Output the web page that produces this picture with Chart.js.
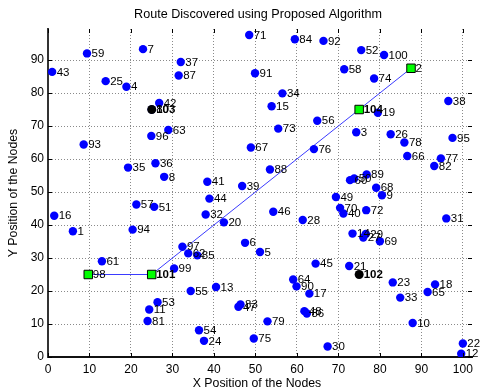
<!DOCTYPE html>
<html>
<head>
<meta charset="utf-8">
<script src="https://cdn.jsdelivr.net/npm/chart.js@4.4.1/dist/chart.umd.min.js"></script>
<style>
  html, body { margin: 0; padding: 0; background: #fff; }
  #wrap { width: 480px; height: 390px; }
</style>
</head>
<body>
<div id="wrap"><canvas id="route-chart" width="480" height="390"></canvas></div>
<script>
// ordinary nodes
const nodeIds = [1, 3, 4, 5, 6, 7, 8, 9, 10, 11, 12, 13, 14, 15, 16, 17, 18, 19, 20,
  21, 22, 23, 24, 25, 26, 27, 28, 29, 30, 31, 32, 33, 34, 35, 36, 37, 38, 39, 40,
  41, 42, 43, 44, 45, 46, 47, 48, 49, 50, 51, 52, 53, 54, 55, 56, 57, 58, 59, 60,
  61, 62, 63, 64, 65, 66, 67, 68, 69, 70, 71, 72, 73, 74, 75, 76, 77, 78, 79, 80,
  81, 82, 83, 84, 85, 86, 87, 88, 89, 90, 91, 92, 93, 94, 95, 96, 97, 99, 100];
const nodeX = [6.0, 74.3, 18.9, 51.1, 47.5, 22.9, 28.0, 80.5, 87.9, 24.4, 99.6, 40.5, 73.4, 53.9, 1.5, 63.0, 93.3, 79.5, 42.4,
  72.6, 100.0, 83.1, 37.6, 13.9, 82.6, 76.0, 61.4, 76.6, 67.4, 96.0, 38.0, 84.9, 56.5, 19.3, 25.9, 32.0, 96.5, 46.8, 71.2,
  38.4, 26.8, 1.0, 38.9, 64.5, 54.3, 45.9, 61.8, 69.4, 73.8, 25.6, 75.5, 26.4, 36.4, 34.4, 64.9, 21.3, 71.4, 9.4, 72.8,
  13.0, 33.8, 29.0, 59.1, 91.5, 86.6, 48.9, 79.1, 80.0, 70.4, 48.5, 76.7, 55.5, 78.6, 49.6, 64.1, 94.7, 85.9, 52.9, 25.0,
  24.0, 93.1, 46.4, 59.5, 36.0, 62.4, 31.5, 53.5, 76.8, 59.9, 49.9, 66.4, 8.6, 20.4, 97.5, 24.9, 32.4, 30.4, 81.0];
const nodeY = [38.1, 68.1, 81.9, 31.8, 34.6, 93.3, 54.6, 49.0, 10.3, 14.4, 1.0, 21.2, 37.4, 76.0, 42.8, 19.2, 22.0, 74.0, 40.8,
  27.6, 4.1, 22.6, 4.9, 83.6, 67.5, 36.2, 41.5, 37.3, 3.2, 42.0, 43.2, 18.0, 79.9, 57.4, 58.7, 89.4, 77.6, 51.8, 43.5,
  53.1, 77.0, 86.4, 48.0, 28.3, 44.0, 15.2, 13.9, 48.5, 54.1, 45.5, 93.0, 16.6, 8.1, 20.0, 71.6, 46.2, 87.2, 92.0, 53.6,
  29.0, 31.4, 68.8, 23.5, 19.7, 60.9, 63.5, 51.3, 35.1, 45.2, 97.6, 44.5, 69.2, 84.4, 5.6, 63.0, 60.2, 65.0, 10.8, 75.0,
  10.9, 57.9, 15.9, 96.3, 30.8, 13.2, 85.3, 56.8, 55.3, 21.4, 86.0, 95.8, 64.4, 38.6, 66.4, 67.0, 33.4, 26.8, 91.5];

// route end points / relays (green squares)
const routeIds = [98, 101, 104, 2];
const routeX = [9.7, 25, 75, 87.5];
const routeY = [25, 25, 75, 87.5];

// cluster heads not on the route
const headIds = [102, 103];
const headX = [75, 25];
const headY = [25, 75];

const xTicks = [0, 10, 20, 30, 40, 50, 60, 70, 80, 90, 100];
const yTicks = [0, 10, 20, 30, 40, 50, 60, 70, 80, 90];

const FONT = "'Liberation Sans', Arial, sans-serif";

function points(xs, ys) {
  return xs.map((x, i) => ({ x: x, y: ys[i] }));
}

const nodeLabels = {
  id: 'nodeLabels',
  afterDatasetsDraw(chart) {
    const ctx = chart.ctx;
    ctx.save();
    ctx.fillStyle = '#000';
    ctx.textAlign = 'left';
    ctx.textBaseline = 'middle';
    chart.data.datasets.forEach((ds, i) => {
      if (!ds.ids) return;
      const meta = chart.getDatasetMeta(i);
      meta.data.forEach((el, j) => {
        const id = ds.ids[j];
        ctx.font = (id > 100 ? 'bold ' : '') + '11.5px ' + FONT;
        ctx.fillText(String(id), el.x + 4.5, el.y + 0.5);
      });
    });
    ctx.restore();
  }
};

const frame = {
  id: 'frame',
  afterDraw(chart) {
    const ctx = chart.ctx;
    const a = chart.chartArea;
    const sx = chart.scales.x, sy = chart.scales.y;
    ctx.save();
    ctx.strokeStyle = '#000';
    ctx.lineWidth = 1;
    ctx.beginPath();
    xTicks.forEach(v => {
      const px = Math.round(sx.getPixelForValue(v)) + 0.5;
      ctx.moveTo(px, a.bottom); ctx.lineTo(px, a.bottom - 4);
      ctx.moveTo(px, a.top); ctx.lineTo(px, a.top + 4);
    });
    yTicks.forEach(v => {
      const py = Math.round(sy.getPixelForValue(v)) + 0.5;
      ctx.moveTo(a.left, py); ctx.lineTo(a.left + 4, py);
      ctx.moveTo(a.right, py); ctx.lineTo(a.right - 4, py);
    });
    ctx.stroke();

    ctx.fillStyle = '#000';
    ctx.textAlign = 'center';
    ctx.textBaseline = 'middle';
    ctx.font = '12.6px ' + FONT;
    ctx.fillText('Route Discovered using Proposed Algorithm', 258, 15);
    ctx.font = '12.3px ' + FONT;
    ctx.fillText('X Position of the Nodes', 257, 384);
    ctx.translate(14, 193);
    ctx.rotate(-Math.PI / 2);
    ctx.fillText('Y Position of the Nodes', 0, 0);
    ctx.restore();
  }
};

const graph = document.getElementById('route-chart');

const chart = new Chart(graph, {
  type: 'scatter',
  data: {
    datasets: [{
      label: 'Route',
      data: points(routeX, routeY),
      showLine: true,
      borderColor: '#3b3bff',
      borderWidth: 1,
      pointRadius: 0,
      order: 3
    }, {
      label: 'Nodes',
      ids: nodeIds,
      data: points(nodeX, nodeY),
      pointStyle: 'circle',
      pointRadius: 4.2,
      pointBorderWidth: 0,
      backgroundColor: '#0000ff',
      borderColor: '#0000ff',
      order: 2
    }, {
      label: 'Heads',
      ids: headIds,
      data: points(headX, headY),
      pointStyle: 'circle',
      pointRadius: 4.5,
      pointBorderWidth: 0,
      backgroundColor: '#000',
      borderColor: '#000',
      order: 1
    }, {
      label: 'Route nodes',
      ids: routeIds,
      data: points(routeX, routeY),
      pointStyle: 'rect',
      pointRadius: 6,
      pointBorderWidth: 1,
      backgroundColor: '#00ff00',
      borderColor: '#000',
      order: 0
    }]
  },
  options: {
    responsive: false,
    animation: false,
    layout: {
      padding: { top: 29, right: 8, left: 0, bottom: 0 }
    },
    plugins: {
      legend: { display: false },
      tooltip: { enabled: false }
    },
    scales: {
      x: {
        type: 'linear',
        min: 0,
        max: 102.2,
        afterFit: s => { s.height = 33; },
        afterBuildTicks: s => { s.ticks = xTicks.map(v => ({ value: v })); },
        grid: {
          color: '#8a8a8a',
          lineWidth: 1,
          drawTicks: false
        },
        border: { display: true, color: '#111', width: 2, dash: [1, 2] },
        ticks: {
          color: '#000',
          padding: 5,
          font: { family: FONT, size: 12 }
        }
      },
      y: {
        type: 'linear',
        min: 0,
        max: 99.4,
        afterFit: s => { s.width = 48; },
        afterBuildTicks: s => { s.ticks = yTicks.map(v => ({ value: v })); },
        grid: {
          color: '#8a8a8a',
          lineWidth: 1,
          drawTicks: false
        },
        border: { display: true, color: '#333', width: 2, dash: [1, 2] },
        ticks: {
          color: '#000',
          padding: 4,
          font: { family: FONT, size: 12 }
        }
      }
    }
  },
  plugins: [nodeLabels, frame]
});
</script>
</body>
</html>
